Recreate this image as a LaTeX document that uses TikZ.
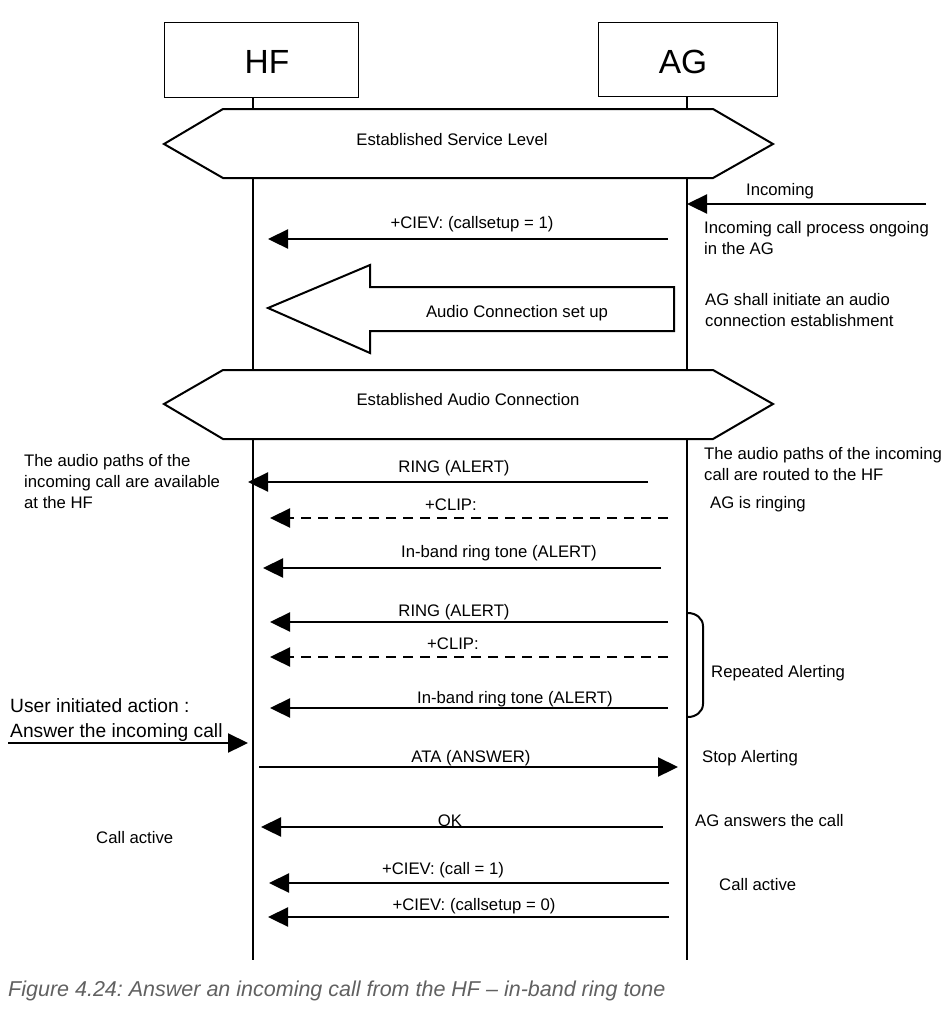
\documentclass[tikz,border=0pt]{standalone}
\usepackage{fontspec}
\setmainfont{Liberation Sans}
\usetikzlibrary{arrows.meta}
\begin{document}
\frenchspacing
\begin{tikzpicture}[x=1pt,y=-1pt,
  lbl/.style={font=\fontsize{16.7}{21}\selectfont, inner sep=0pt, yshift=-1.5pt},
  note/.style={lbl, align=left, anchor=west},
  big/.style={font=\fontsize{33.5}{36}\selectfont, inner sep=0pt},
  user/.style={font=\fontsize{19.2}{27}\selectfont, inner sep=0pt, anchor=west, yshift=-1pt},
  entity/.style={draw, line width=1pt, minimum width=194pt, minimum height=75pt, inner sep=0pt},
  life/.style={line width=2pt},
  msg/.style={line width=2.3pt, -{Triangle[length=20pt,width=19pt]}},
  dmsg/.style={msg, dash pattern=on 10pt off 7pt},
  outl/.style={draw, line width=2pt, fill=white, line join=miter}
]
\useasboundingbox (0,0) rectangle (952,1021);
\fill[white] (0,0) rectangle (952,1021);

% entities
\node[entity] (hf) at (261,59.5) {};
\node[big] (hft) at (267,62) {HF};
\node[entity, minimum width=179pt, minimum height=74pt] (ag) at (687.5,59) {};
\node[big] (agt) at (683,62) {AG};

% lifelines
\coordinate (hfT) at (253,97);
\coordinate (hfB) at (253,960);
\coordinate (agT) at (687,96);
\coordinate (agB) at (687,960);
\draw[life] (hfT) -- (hfB);
\draw[life] (agT) -- (agB);

% established service level
\draw[outl] (164,144) -- (223,109) -- (713,109) -- (773,144) -- (713,178) -- (223,178) -- cycle;
\node[lbl] (esl) at (452,138) {Established Service Level};

% incoming
\coordinate (inS) at (926,204);
\coordinate (inE) at (687,204);
\draw[msg] (inS) -- (inE);
\node[lbl] (inl) at (780,190) {Incoming};
\node[note] (n1) at (704,236.5) {Incoming call process ongoing\\in the AG};

% CIEV callsetup=1
\coordinate (m1s) at (668,239);
\coordinate (m1e) at (268,239);
\draw[msg] (m1s) -- (m1e);
\node[lbl] (m1l) at (472,223) {+CIEV: (callsetup = 1)};

% big arrow
\draw[outl] (268,308) -- (370,265) -- (370,287) -- (674,287) -- (674,331) -- (370,331) -- (370,353) -- cycle;
\node[lbl] (acs) at (517,312) {Audio Connection set up};
\node[note] (n2) at (705,308.5) {AG shall initiate an audio\\connection establishment};

% established audio connection
\draw[outl] (164,404) -- (223,370) -- (713,370) -- (773,404) -- (713,439) -- (223,439) -- cycle;
\node[lbl] (eac) at (468,398) {Established Audio Connection};

\node[note] (n3) at (24,480) {The audio paths of the\\incoming call are available\\at the HF};
\node[note] (n4) at (704,462.5) {The audio paths of the incoming\\call are routed to the HF};
\node[note] (n5) at (710,503) {AG is ringing};

% first alert group
\coordinate (r1s) at (648,482);
\coordinate (r1e) at (248,482);
\draw[msg] (r1s) -- (r1e);
\node[lbl] (r1l) at (454,467) {RING (ALERT)};
\coordinate (c1s) at (668,518);
\coordinate (c1e) at (270,518);
\draw[dmsg] (c1s) -- (c1e);
\node[lbl] (c1l) at (451,503) {+CLIP:};
\coordinate (b1s) at (661,568);
\coordinate (b1e) at (263,568);
\draw[msg] (b1s) -- (b1e);
\node[lbl] (b1l) at (499,552) {In-band ring tone (ALERT)};

% repeated alert group
\coordinate (r2s) at (668,622);
\coordinate (r2e) at (270,622);
\draw[msg] (r2s) -- (r2e);
\node[lbl] (r2l) at (454,611) {RING (ALERT)};
\coordinate (c2s) at (668,657);
\coordinate (c2e) at (270,657);
\draw[dmsg] (c2s) -- (c2e);
\node[lbl] (c2l) at (453,642) {+CLIP:};
\coordinate (b2s) at (668,708);
\coordinate (b2e) at (270,708);
\draw[msg] (b2s) -- (b2e);
\node[lbl] (b2l) at (515,698) {In-band ring tone (ALERT)};

% brace
\coordinate (brT) at (688,613);
\coordinate (brB) at (688,717);
\draw[line width=2pt] (brT) to[out=0,in=90] (703,626) -- (703,704) to[out=-90,in=0] (brB);
\node[note] (rep) at (711,672) {Repeated Alerting};

% user action
\node[user] (u1) at (10,705) {User initiated action :};
\node[user] (u2) at (10,732) {Answer the incoming call};
\coordinate (uS) at (8,743);
\coordinate (uE) at (248,743);
\draw[msg] (uS) -- (uE);

% ATA
\coordinate (aS) at (259,767);
\coordinate (aE) at (678,767);
\draw[msg] (aS) -- (aE);
\node[lbl] (al) at (471,757) {ATA (ANSWER)};
\node[note] (n6) at (702,757) {Stop Alerting};

% OK
\coordinate (oS) at (663,827);
\coordinate (oE) at (261,827);
\draw[msg] (oS) -- (oE);
\node[lbl] (ol) at (450,819) {OK};
\node[note] (n7) at (695,819) {AG answers the call};
\node[note] (n8) at (96,836) {Call active};

% CIEV call
\coordinate (k1s) at (669,883);
\coordinate (k1e) at (269,883);
\draw[msg] (k1s) -- (k1e);
\node[lbl] (k1l) at (443,869) {+CIEV: (call = 1)};
\node[note] (n9) at (719,883) {Call active};
\coordinate (k2s) at (669,917);
\coordinate (k2e) at (268,917);
\draw[msg] (k2s) -- (k2e);
\node[lbl] (k2l) at (474,905) {+CIEV: (callsetup = 0)};

% caption
\node[font=\fontsize{21.5}{24}\selectfont\itshape, text=black!62, inner sep=0pt, anchor=west] (cap) at (8,991) {Figure 4.24: Answer an incoming call from the HF -- in-band ring tone};
\end{tikzpicture}
\end{document}
